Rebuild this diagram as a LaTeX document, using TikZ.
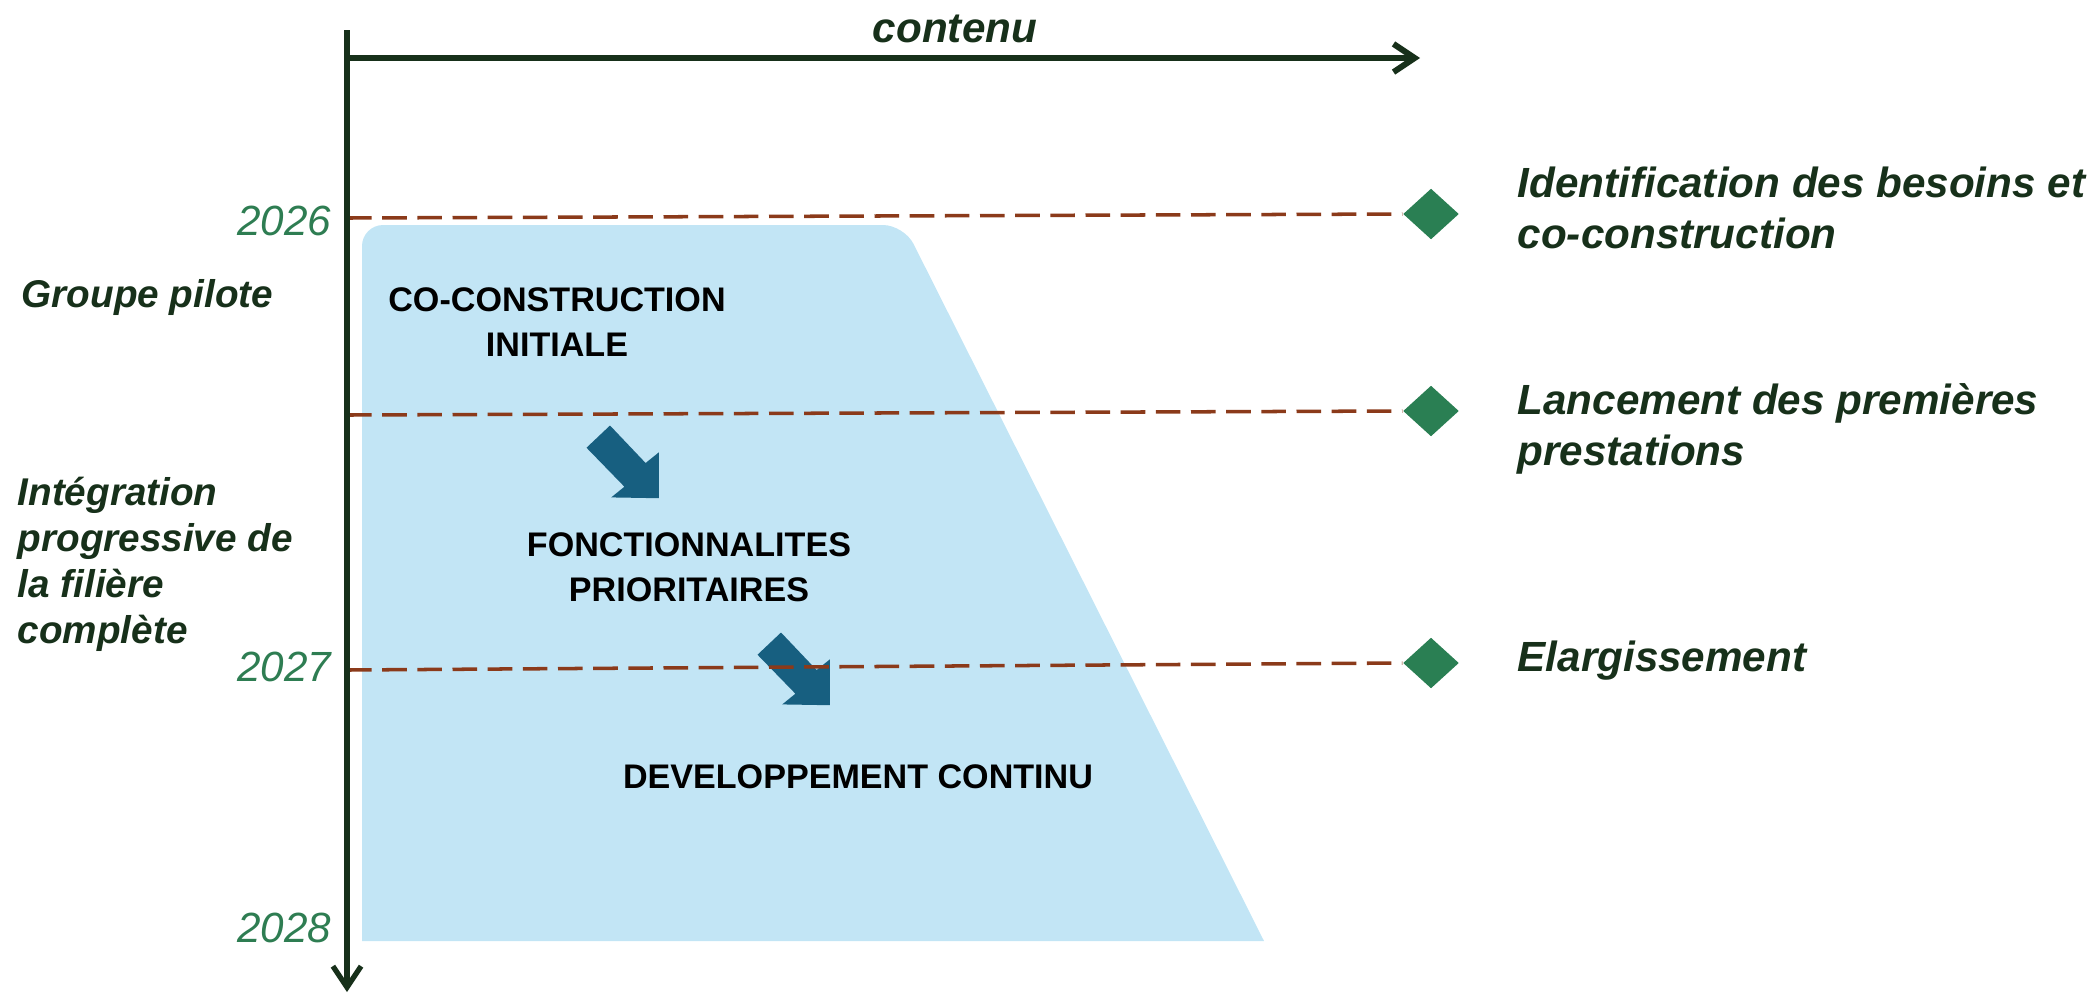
\documentclass[tikz,border=0pt]{standalone}
\usepackage{fontspec}
\setmainfont{Liberation Sans}
\usetikzlibrary{shapes.geometric,arrows.meta}
\definecolor{axe}{HTML}{17301A}
\definecolor{vertannee}{HTML}{2E7D52}
\definecolor{jalon}{HTML}{2A7F53}
\definecolor{brun}{HTML}{8B3A1A}
\definecolor{zone}{HTML}{C2E5F5}
\definecolor{bleufleche}{HTML}{175F80}
\def\axex{347}

\begin{document}
\begin{tikzpicture}[x=0.01cm, y=-0.01cm, >={Straight Barb[length=6pt,width=8pt]}]
    \tikzstyle{year label}=[text=vertannee, font=\fontsize{12}{14}\selectfont\itshape, anchor=east, inner sep=0pt]
    \tikzstyle{milestone}=[diamond, fill=jalon, minimum width=0.56cm, minimum height=0.51cm, inner sep=0pt]
    \tikzstyle{dash line}=[brun, line width=1pt, dash pattern=on 7pt off 3pt]
    \tikzstyle{side label}=[text=axe, font=\fontsize{12}{14.3}\selectfont\bfseries\itshape, anchor=west, align=left, inner sep=0pt]
    \tikzstyle{left label}=[text=axe, font=\fontsize{11}{13.1}\selectfont\bfseries\itshape, anchor=west, align=left, inner sep=0pt]
    \tikzstyle{phase text}=[text=black, font=\fontsize{9.7}{12.8}\selectfont\bfseries, align=center, inner sep=0pt]

    \useasboundingbox (0,0) rectangle (2100,996);

    % Light blue zone
    \fill[zone] (362,941) [rounded corners=6pt] -- (362,225) -- (904,225) [sharp corners] -- (1264,941) -- cycle;

    % Block arrows between the phases
    \foreach \pos in {(610,425.5),(781,632.5)}
        \fill[bleufleche, shift={\pos}] (0,0) -- (35.6,37.5) -- (48.9,26.8) -- (48.9,72.7)
            -- (1.2,71.9) -- (14.4,61.2) -- (-23.5,22.2) -- cycle;

    % Milestones and dashed lines
    \node[milestone] (j1) at (1431,214) {};
    \node[milestone] (j2) at (1431,411) {};
    \node[milestone] (j3) at (1431,663) {};
    \coordinate (t1) at (\axex,218);
    \coordinate (t2) at (\axex,415);
    \coordinate (t3) at (\axex,670);
    \foreach \i in {1,2,3}
        \draw[dash line] (t\i) -- (j\i.west);

    % Axes
    \coordinate (haut) at (\axex,30);
    \coordinate (bas) at (\axex,992);
    \coordinate (origine) at (\axex,58);
    \coordinate (droite) at (1420,58);
    \draw[axe, line width=1.5pt, ->] (haut) -- (bas);
    \draw[axe, line width=1.7pt, ->] (origine) -- (droite);
    \node[text=axe, font=\fontsize{12}{14}\selectfont\bfseries\itshape] (contenu) at (955,29) {contenu};

    % Years
    \node[year label] (a2026) at (332,221) {2026};
    \node[year label] (a2027) at (332,667) {2027};
    \node[year label] (a2028) at (332,928) {2028};

    % Left labels
    \node[left label] (pilote) at (21,297) {Groupe pilote};
    \node[left label] (integration) at (17,564) {Intégration\\progressive de\\la filière\\complète};

    % Phases
    \node[phase text] (co) at (557,322) {CO-CONSTRUCTION\\INITIALE};
    \node[phase text] (fonct) at (689,567) {FONCTIONNALITES\\PRIORITAIRES};
    \node[phase text] (dev) at (858,777) {DEVELOPPEMENT CONTINU};

    % Milestone labels
    \node[side label] (l1) at (1517,208) {Identification des besoins et\\co-construction};
    \node[side label] (l2) at (1517,429) {Lancement des premières\\prestations};
    \node[side label] (l3) at (1517,661) {Elargissement};
\end{tikzpicture}
\end{document}
